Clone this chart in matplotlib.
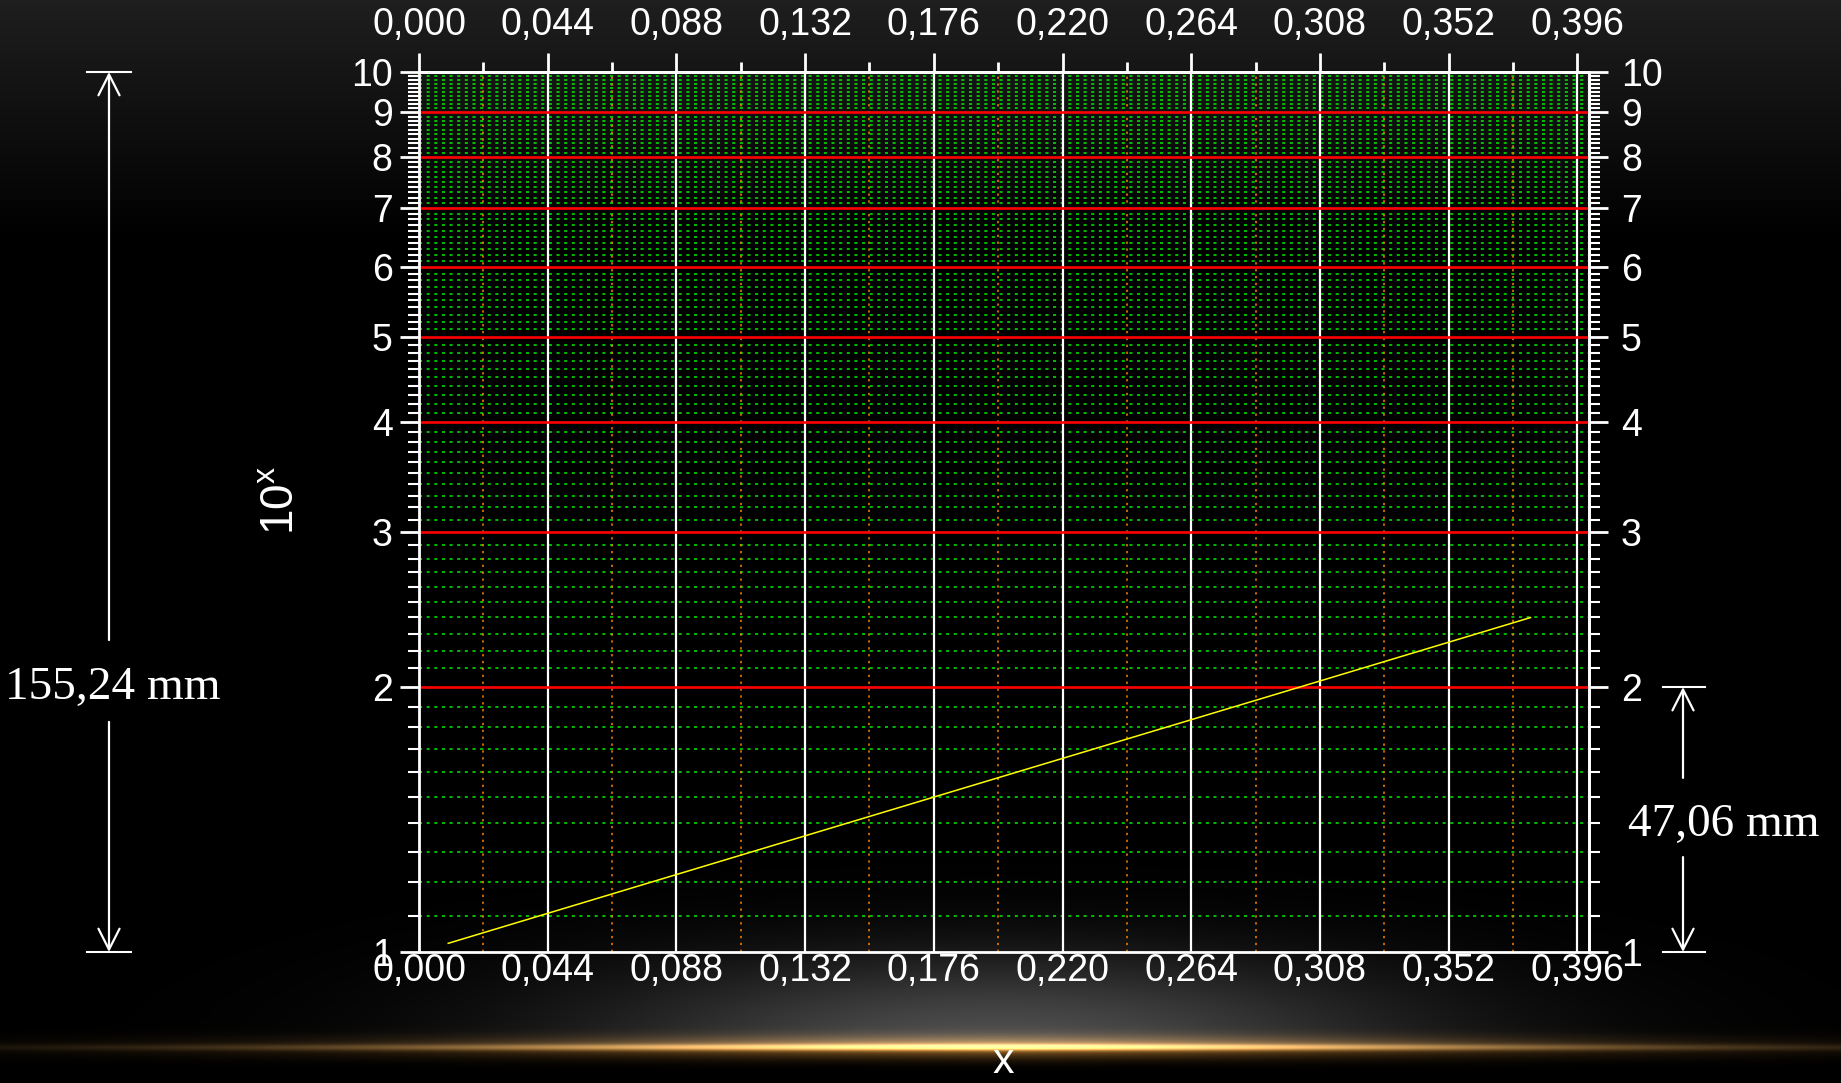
import numpy as np
import matplotlib.pyplot as plt
from matplotlib import transforms
from matplotlib.ticker import NullFormatter

plt.rcParams['font.family'] = ['Liberation Sans', 'DejaVu Sans']

# axis ticks (x in units, y = 10^x on log scale)
x_major = [0.000, 0.044, 0.088, 0.132, 0.176, 0.220, 0.264, 0.308, 0.352, 0.396]
x_major_lbl = ['0,000', '0,044', '0,088', '0,132', '0,176', '0,220', '0,264', '0,308', '0,352', '0,396']
x_minor = [0.022, 0.066, 0.110, 0.154, 0.198, 0.242, 0.286, 0.330, 0.374]
y_major = [1, 2, 3, 4, 5, 6, 7, 8, 9, 10]
y_major_lbl = ['1', '2', '3', '4', '5', '6', '7', '8', '9', '10']
y_minor = [v / 10 for v in range(11, 100) if v % 10]

# yellow curve
curve_x = [0.010, 0.100, 0.200, 0.300, 0.380]
curve_y = [1.023, 1.259, 1.585, 1.995, 2.399]

# dimension marks: (top value, bottom value, gap top, gap bottom, text y, label)
dim_left = [10, 1, 2.262, 1.826, 1.995, '155,24 mm']
dim_right = [2, 1, 1.577, 1.282, 1.395, '47,06 mm']

W, H = 1841, 1083

# background: dark gradient on top, gray glow + golden streak at the bottom
yy, xx = np.mgrid[0:H, 0:W]
yy = yy.astype(float)
xx = xx.astype(float)
gray = 0.12 * np.clip(1 - yy / 240, 0, 1)
gray += 0.30 * np.exp(-((xx - 1000) / 420) ** 2 - ((yy - 1040) / 85) ** 2) * np.clip((1050 - yy) / 5, 0, 1)
bg = np.dstack([gray] * 3)
hx = np.exp(-(np.abs(xx - 990) / 560) ** 1.6)
core = np.exp(-((yy - 1047) / 3.2) ** 2) * hx
halo = np.exp(-((yy - 1047) / 11) ** 2) * hx
bg += core[..., None] * np.array([0.80, 0.62, 0.36]) + halo[..., None] * np.array([0.50, 0.33, 0.12])
bg = np.clip(bg, 0, 1)

fig = plt.figure(figsize=(W / 100, H / 100), dpi=100)
bgax = fig.add_axes([0, 0, 1, 1], zorder=-10)
bgax.imshow(bg, aspect='auto')
bgax.axis('off')

ax = fig.add_axes([419 / W, (H - 952) / H, (1589 - 419) / W, 880 / H])
ax.set_facecolor('none')
ax.set_yscale('log')
ax.set_xlim(0, 0.4)
ax.set_ylim(1, 10)

# grid
for v in y_minor:
    ax.axhline(v, color='#00f000', lw=1.1, dashes=(2, 3), zorder=1)
for v in x_minor:
    ax.axvline(v, color='#ff8000', lw=1.1, dashes=(1.5, 3), zorder=1.1)
for v in x_major[1:]:
    ax.axvline(v, color='white', lw=1.6, zorder=1.2)
for v in y_major[1:-1]:
    ax.axhline(v, color='#ff0000', lw=1.9, zorder=1.3)

ax.plot(curve_x, curve_y, color='#ffff00', lw=1.1, zorder=3)

for s in ax.spines.values():
    s.set_color('white')
    s.set_linewidth(2)

ax.set_xticks(x_major, x_major_lbl)
ax.set_xticks(x_minor, minor=True)
ax.tick_params(axis='x', which='both', length=0, pad=1, labelsize=27, labelcolor='white')

ax.set_yticks(y_major, y_major_lbl)
ax.set_yticks(y_minor, minor=True)
ax.yaxis.set_minor_formatter(NullFormatter())
ax.tick_params(axis='y', which='major', length=14, width=2, direction='out', pad=5,
               labelsize=27, colors='white')
ax.tick_params(axis='y', which='minor', length=8, width=1.5, direction='out', colors='white')

# top axis
secx = ax.secondary_xaxis('top')
secx.set_xticks(x_major, x_major_lbl)
secx.set_xticks(x_minor, minor=True)
secx.xaxis.set_minor_formatter(NullFormatter())
secx.tick_params(which='major', length=14, width=2, direction='out', pad=7, labelsize=27, colors='white')
secx.tick_params(which='minor', length=7, width=2, direction='out', colors='white')
secx.spines['top'].set_color('white')
secx.spines['top'].set_linewidth(2)

# right axis
secy = ax.secondary_yaxis('right')
secy.set_yticks(y_major, y_major_lbl)
secy.set_yticks(y_minor, minor=True)
secy.yaxis.set_minor_formatter(NullFormatter())
secy.tick_params(which='major', length=14, width=2, direction='out', pad=9, labelsize=27, colors='white')
secy.tick_params(which='minor', length=8, width=1.5, direction='out', colors='white')
secy.spines['right'].set_color('white')
secy.spines['right'].set_linewidth(2)

fig.text(281 / W, 1 - 500 / H, r'10$^{\mathregular{x}}$', rotation=90, ha='center', va='center',
         size=33, color='white')
fig.text(1003 / W, 1 - 1062 / H, 'x', ha='center', va='center', size=31, color='white')

# dimension marks
blend = transforms.blended_transform_factory(fig.transFigure, ax.transData)


def dimension(xc, x0, x1, xt, d):
    top, bot, gtop, gbot, ty, label = d
    for v in (top, bot):
        ax.plot([x0 / W, x1 / W], [v, v], transform=blend, color='white', lw=1.5, clip_on=False)
    for tip, start in ((top, gtop), (bot, gbot)):
        ax.annotate('', xy=(xc / W, tip), xytext=(xc / W, start), xycoords=blend, textcoords=blend,
                    annotation_clip=False,
                    arrowprops=dict(arrowstyle='->,head_length=0.75,head_width=0.38', color='white',
                                    lw=1.6, shrinkA=0, shrinkB=0, mutation_scale=20))
    ax.text(xt / W, ty, label, transform=blend, ha='center', va='center', family='Liberation Serif',
            size=34, color='white')


dimension(109, 87, 131, 113, dim_left)
dimension(1683, 1663, 1705, 1724, dim_right)

fig.savefig('out.png', dpi=100, facecolor='black')
